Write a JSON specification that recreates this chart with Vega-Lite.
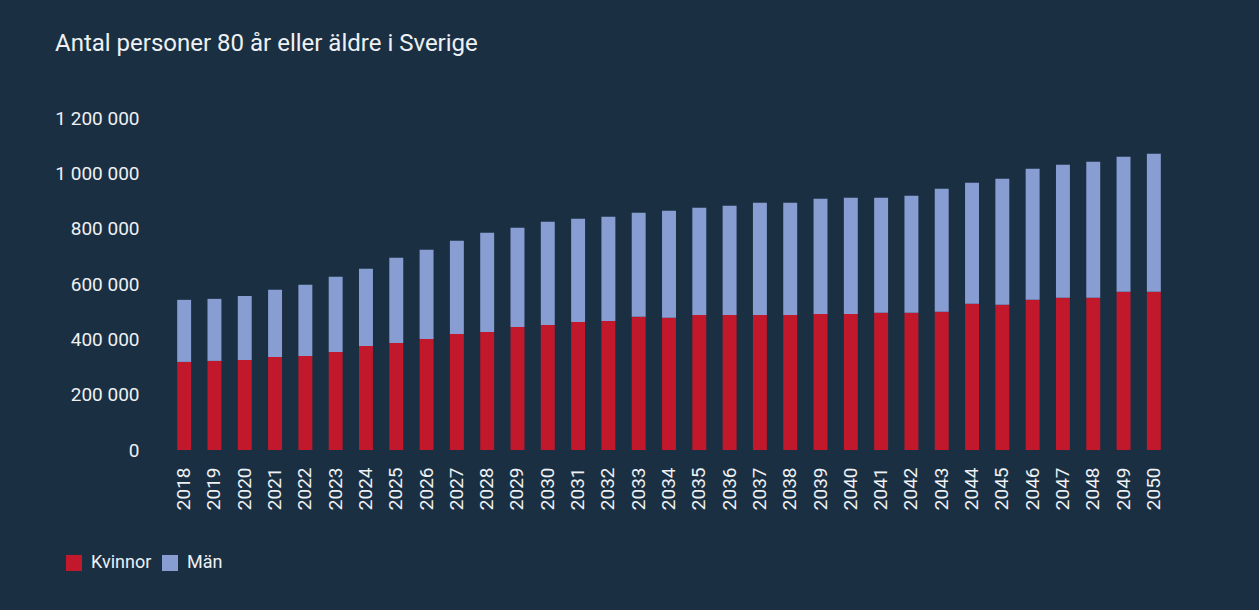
{
  "$schema": "https://vega.github.io/schema/vega-lite/v6.json",
  "width": 1000,
  "height": 332,
  "autosize": {"type": "none"},
  "padding": {"left": 169, "top": 118, "right": 90, "bottom": 160},
  "background": "#1b2f43",
  "title": {
    "text": "Antal personer 80 år eller äldre i Sverige",
    "anchor": "start",
    "frame": "group",
    "dx": -114,
    "offset": 34,
    "baseline": "alphabetic",
    "font": "Roboto",
    "fontSize": 24,
    "fontWeight": "normal",
    "color": "#eef1f4"
  },
  "data": {
    "values": [
      {"year": "2018", "gender": "Kvinnor", "value": 318400}, {"year": "2018", "gender": "Män", "value": 224300},
      {"year": "2019", "gender": "Kvinnor", "value": 322000}, {"year": "2019", "gender": "Män", "value": 224300},
      {"year": "2020", "gender": "Kvinnor", "value": 325600}, {"year": "2020", "gender": "Män", "value": 231400},
      {"year": "2021", "gender": "Kvinnor", "value": 336500}, {"year": "2021", "gender": "Män", "value": 242400},
      {"year": "2022", "gender": "Kvinnor", "value": 340000}, {"year": "2022", "gender": "Män", "value": 257000},
      {"year": "2023", "gender": "Kvinnor", "value": 354500}, {"year": "2023", "gender": "Män", "value": 271500},
      {"year": "2024", "gender": "Kvinnor", "value": 376300}, {"year": "2024", "gender": "Män", "value": 278700},
      {"year": "2025", "gender": "Kvinnor", "value": 387100}, {"year": "2025", "gender": "Män", "value": 307500},
      {"year": "2026", "gender": "Kvinnor", "value": 401600}, {"year": "2026", "gender": "Män", "value": 322000},
      {"year": "2027", "gender": "Kvinnor", "value": 419700}, {"year": "2027", "gender": "Män", "value": 336300},
      {"year": "2028", "gender": "Kvinnor", "value": 426900}, {"year": "2028", "gender": "Män", "value": 358100},
      {"year": "2029", "gender": "Kvinnor", "value": 445000}, {"year": "2029", "gender": "Män", "value": 358000},
      {"year": "2030", "gender": "Kvinnor", "value": 452200}, {"year": "2030", "gender": "Män", "value": 372800},
      {"year": "2031", "gender": "Kvinnor", "value": 463100}, {"year": "2031", "gender": "Män", "value": 372600},
      {"year": "2032", "gender": "Kvinnor", "value": 466700}, {"year": "2032", "gender": "Män", "value": 376300},
      {"year": "2033", "gender": "Kvinnor", "value": 481200}, {"year": "2033", "gender": "Män", "value": 376300},
      {"year": "2034", "gender": "Kvinnor", "value": 477600}, {"year": "2034", "gender": "Män", "value": 387100},
      {"year": "2035", "gender": "Kvinnor", "value": 488400}, {"year": "2035", "gender": "Män", "value": 387100},
      {"year": "2036", "gender": "Kvinnor", "value": 488400}, {"year": "2036", "gender": "Män", "value": 394400},
      {"year": "2037", "gender": "Kvinnor", "value": 488400}, {"year": "2037", "gender": "Män", "value": 405200},
      {"year": "2038", "gender": "Kvinnor", "value": 488400}, {"year": "2038", "gender": "Män", "value": 405200},
      {"year": "2039", "gender": "Kvinnor", "value": 492000}, {"year": "2039", "gender": "Män", "value": 416100},
      {"year": "2040", "gender": "Kvinnor", "value": 492000}, {"year": "2040", "gender": "Män", "value": 419700},
      {"year": "2041", "gender": "Kvinnor", "value": 495700}, {"year": "2041", "gender": "Män", "value": 416000},
      {"year": "2042", "gender": "Kvinnor", "value": 495700}, {"year": "2042", "gender": "Män", "value": 423300},
      {"year": "2043", "gender": "Kvinnor", "value": 499300}, {"year": "2043", "gender": "Män", "value": 445000},
      {"year": "2044", "gender": "Kvinnor", "value": 528200}, {"year": "2044", "gender": "Män", "value": 437800},
      {"year": "2045", "gender": "Kvinnor", "value": 524600}, {"year": "2045", "gender": "Män", "value": 455900},
      {"year": "2046", "gender": "Kvinnor", "value": 542700}, {"year": "2046", "gender": "Män", "value": 473900},
      {"year": "2047", "gender": "Kvinnor", "value": 549900}, {"year": "2047", "gender": "Män", "value": 481200},
      {"year": "2048", "gender": "Kvinnor", "value": 549900}, {"year": "2048", "gender": "Män", "value": 492100},
      {"year": "2049", "gender": "Kvinnor", "value": 571600}, {"year": "2049", "gender": "Män", "value": 488400},
      {"year": "2050", "gender": "Kvinnor", "value": 571600}, {"year": "2050", "gender": "Män", "value": 499300}
    ]
  },
  "mark": {"type": "bar"},
  "encoding": {
    "x": {
      "field": "year",
      "type": "ordinal",
      "scale": {"paddingInner": 0.54, "paddingOuter": 0.27},
      "axis": {
        "title": null,
        "domain": false,
        "ticks": false,
        "labelAngle": 270,
        "labelAlign": "right",
        "labelBaseline": "middle",
        "labelPadding": 17,
        "labelFont": "Roboto",
        "labelFontSize": 19,
        "labelColor": "#eef1f4"
      }
    },
    "y": {
      "field": "value",
      "type": "quantitative",
      "aggregate": "sum",
      "stack": "zero",
      "scale": {"domain": [0, 1200000], "nice": false},
      "axis": {
        "title": null,
        "domain": false,
        "ticks": false,
        "grid": false,
        "values": [0, 200000, 400000, 600000, 800000, 1000000, 1200000],
        "format": ",d",
        "labelPadding": 30,
        "labelFont": "Roboto",
        "labelFontSize": 19,
        "labelColor": "#eef1f4"
      }
    },
    "color": {
      "field": "gender",
      "type": "nominal",
      "scale": {"domain": ["Kvinnor", "Män"], "range": ["#c1182b", "#889ed2"]},
      "legend": {
        "title": null,
        "orient": "none",
        "legendX": -104,
        "legendY": 436,
        "direction": "horizontal",
        "padding": 0,
        "symbolType": "square",
        "symbolSize": 256,
        "symbolStrokeWidth": 0,
        "symbolOpacity": 1,
        "labelOffset": 8,
        "columnPadding": 9,
        "labelFont": "Roboto",
        "labelFontSize": 18,
        "labelColor": "#eef1f4"
      }
    },
    "order": {"field": "gender", "sort": "ascending"}
  },
  "config": {
    "locale": {"number": {"decimal": ",", "thousands": " ", "grouping": [3], "currency": ["", " kr"]}},
    "view": {"stroke": null}
  }
}
